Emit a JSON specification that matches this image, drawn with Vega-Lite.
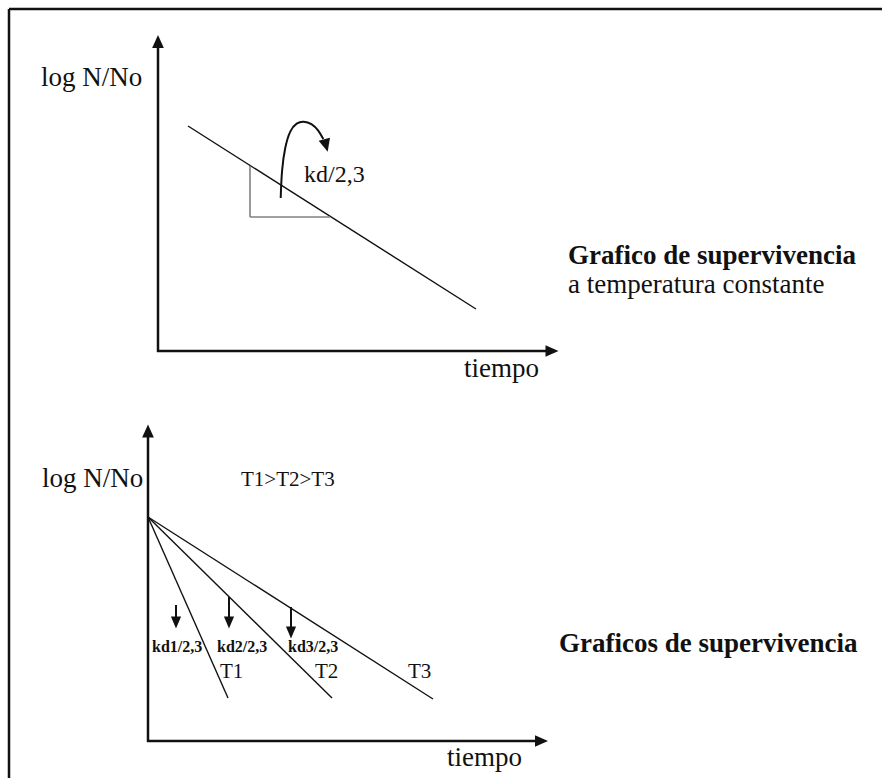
{
  "$schema": "https://vega.github.io/schema/vega-lite/v6.json",
  "width": 882,
  "height": 778,
  "autosize": {"type": "none"},
  "padding": 0,
  "background": "white",
  "config": {"view": {"stroke": null}},
  "datasets": {
    "border": [{"x": 9, "y": 9, "x2": 882, "y2": 9}, {"x": 9, "y": 9, "x2": 9, "y2": 778}],
    "axes": [
      {"x": 158, "y": 46, "x2": 158, "y2": 352},
      {"x": 157, "y": 351, "x2": 548, "y2": 351},
      {"x": 148, "y": 435, "x2": 148, "y2": 742},
      {"x": 147, "y": 741, "x2": 538, "y2": 741}
    ],
    "lines": [
      {"x": 188, "y": 126, "x2": 476, "y2": 309},
      {"x": 148, "y": 517, "x2": 228, "y2": 698},
      {"x": 148, "y": 517, "x2": 332, "y2": 698},
      {"x": 148, "y": 517, "x2": 433, "y2": 699}
    ],
    "tri": [
      {"x": 250, "y": 166, "x2": 250, "y2": 217},
      {"x": 250, "y": 217, "x2": 330, "y2": 217}
    ],
    "shafts": [
      {"x": 176, "y": 605, "x2": 176, "y2": 618},
      {"x": 229, "y": 597, "x2": 229, "y2": 618},
      {"x": 291, "y": 607, "x2": 291, "y2": 628}
    ],
    "headsUp": [{"x": 158, "y": 41.5}, {"x": 148, "y": 431}],
    "headsRight": [{"x": 552, "y": 351}, {"x": 541.5, "y": 741}],
    "headsDown": [{"x": 176, "y": 622.5}, {"x": 229, "y": 622.5}, {"x": 291, "y": 632.5}],
    "curve": [
      {"i": 0, "x": 280.7, "y": 198},
      {"i": 1, "x": 281.7, "y": 170},
      {"i": 2, "x": 285, "y": 146.7},
      {"i": 3, "x": 290, "y": 130},
      {"i": 4, "x": 296.7, "y": 122.7},
      {"i": 5, "x": 303.3, "y": 121},
      {"i": 6, "x": 311.7, "y": 123.3},
      {"i": 7, "x": 318.3, "y": 130},
      {"i": 8, "x": 323.3, "y": 139}
    ],
    "curveHead": [{"x": 326, "y": 145.5}],
    "textBig": [
      {"x": 41, "y": 86, "t": "log N/No"},
      {"x": 464, "y": 377, "t": "tiempo"},
      {"x": 568, "y": 293, "t": "a temperatura constante"},
      {"x": 42, "y": 487, "t": "log N/No"},
      {"x": 447, "y": 766, "t": "tiempo"}
    ],
    "textBold": [
      {"x": 568, "y": 264, "t": "Grafico de supervivencia"},
      {"x": 559, "y": 652, "t": "Graficos de supervivencia"}
    ],
    "textMid": [
      {"x": 304, "y": 182, "t": "kd/2,3"}
    ],
    "textT": [
      {"x": 241, "y": 486, "t": "T1>T2>T3"},
      {"x": 220, "y": 678, "t": "T1"},
      {"x": 315, "y": 678, "t": "T2"},
      {"x": 408, "y": 678, "t": "T3"}
    ],
    "textKd": [
      {"x": 152, "y": 652, "t": "kd1/2,3"},
      {"x": 217, "y": 652, "t": "kd2/2,3"},
      {"x": 288, "y": 652, "t": "kd3/2,3"}
    ]
  },
  "encoding": {
    "x": {"field": "x", "type": "quantitative", "scale": {"domain": [0, 882], "nice": false, "zero": false}, "axis": null},
    "y": {"field": "y", "type": "quantitative", "scale": {"domain": [0, 778], "reverse": true, "nice": false, "zero": false}, "axis": null}
  },
  "layer": [
    {"data": {"name": "border"}, "mark": {"type": "rule", "color": "#111", "strokeWidth": 2.5}, "encoding": {"x2": {"field": "x2"}, "y2": {"field": "y2"}}},
    {"data": {"name": "axes"}, "mark": {"type": "rule", "color": "#111", "strokeWidth": 2.5}, "encoding": {"x2": {"field": "x2"}, "y2": {"field": "y2"}}},
    {"data": {"name": "lines"}, "mark": {"type": "rule", "color": "#111", "strokeWidth": 1.4}, "encoding": {"x2": {"field": "x2"}, "y2": {"field": "y2"}}},
    {"data": {"name": "tri"}, "mark": {"type": "rule", "color": "#808080", "strokeWidth": 1.6}, "encoding": {"x2": {"field": "x2"}, "y2": {"field": "y2"}}},
    {"data": {"name": "shafts"}, "mark": {"type": "rule", "color": "#111", "strokeWidth": 2}, "encoding": {"x2": {"field": "x2"}, "y2": {"field": "y2"}}},
    {"data": {"name": "curve"}, "mark": {"type": "line", "color": "#111", "strokeWidth": 2, "interpolate": "basis"}, "encoding": {"order": {"field": "i", "type": "quantitative"}}},
    {"data": {"name": "headsUp"}, "mark": {"type": "point", "filled": true, "color": "#111", "opacity": 1, "shape": "M0,-1L0.9,1L-0.9,1Z", "size": 169}},
    {"data": {"name": "headsRight"}, "mark": {"type": "point", "filled": true, "color": "#111", "opacity": 1, "shape": "M1,0L-1,0.9L-1,-0.9Z", "size": 169}},
    {"data": {"name": "headsDown"}, "mark": {"type": "point", "filled": true, "color": "#111", "opacity": 1, "shape": "M0,1L0.85,-1L-0.85,-1Z", "size": 144}},
    {"data": {"name": "curveHead"}, "mark": {"type": "point", "filled": true, "color": "#111", "opacity": 1, "shape": "M0,1L0.9,-1L-0.9,-1Z", "size": 169, "angle": 345}},
    {"data": {"name": "textBig"}, "mark": {"type": "text", "font": "Liberation Serif, Times New Roman, serif", "fontSize": 27, "align": "left", "baseline": "alphabetic", "color": "#111"}, "encoding": {"text": {"field": "t"}}},
    {"data": {"name": "textBold"}, "mark": {"type": "text", "font": "Liberation Serif, Times New Roman, serif", "fontSize": 27, "fontWeight": "bold", "align": "left", "baseline": "alphabetic", "color": "#111"}, "encoding": {"text": {"field": "t"}}},
    {"data": {"name": "textMid"}, "mark": {"type": "text", "font": "Liberation Serif, Times New Roman, serif", "fontSize": 24, "align": "left", "baseline": "alphabetic", "color": "#111"}, "encoding": {"text": {"field": "t"}}},
    {"data": {"name": "textT"}, "mark": {"type": "text", "font": "Liberation Serif, Times New Roman, serif", "fontSize": 21, "align": "left", "baseline": "alphabetic", "color": "#111"}, "encoding": {"text": {"field": "t"}}},
    {"data": {"name": "textKd"}, "mark": {"type": "text", "font": "Liberation Serif, Times New Roman, serif", "fontSize": 16, "fontWeight": "bold", "align": "left", "baseline": "alphabetic", "color": "#111"}, "encoding": {"text": {"field": "t"}}}
  ]
}
